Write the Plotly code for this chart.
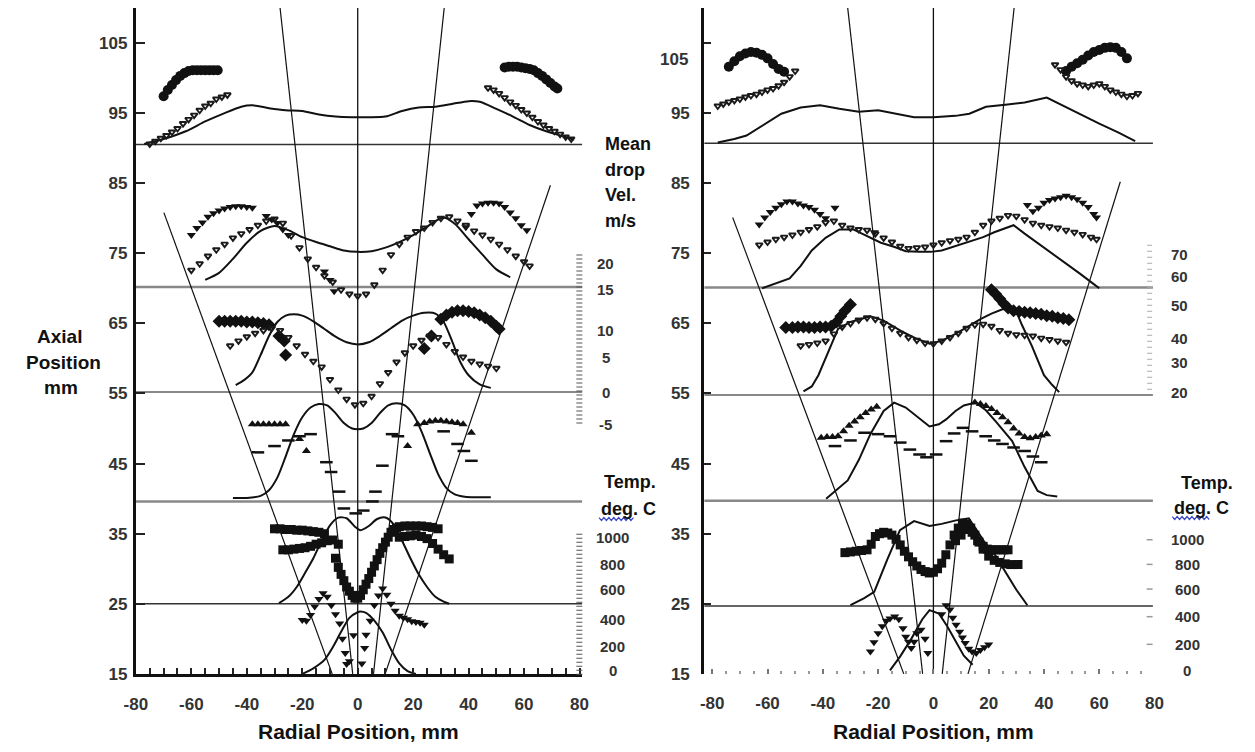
import plotly.graph_objects as go

W, H = 1255, 752

# ---------------- shared axis values ----------------
radial_ticks = [-80, -60, -40, -20, 0, 20, 40, 60, 80]
radial_text = ["-80", "-60", "-40", "-20", "0", "20", "40", "60", "80"]
axial_ticks = [15, 25, 35, 45, 55, 65, 75, 85, 95, 105]

vel_labels_left = ["20", "15", "10", "5", "0", "-5"]
vel_labels_right = ["70", "60", "50", "40", "30", "20"]
temp_labels = ["1000", "800", "600", "400", "200", "0"]

# ---------------- left panel ----------------
base_left = [90.5, 70.2, 55.2, 39.6, 25.0]

# spray cone lines (r0, v0) -> (r1, v1)
cone_left = [((-69.9, 80.8), (-9.2, 15)), ((-28, 110), (-1.8, 15)),
             ((31.2, 110), (5.7, 15)), ((69.5, 84.7), (9.9, 15))]

L1_line_r = [-77, -70, -62, -55, -48, -42, -38, -32, -26, -20, -14, -8, -2, 4, 10, 16, 22, 28, 34, 40, 44, 50, 56, 62, 68, 74, 78]
L1_line_v = [90.6, 91.3, 92.4, 93.8, 95.0, 95.9, 96.1, 95.7, 95.4, 95.3, 94.8, 94.5, 94.4, 94.4, 94.5, 95.3, 95.8, 95.9, 96.3, 96.7, 96.6, 95.6, 94.5, 93.3, 92.4, 91.7, 91.2]
L1_circ_r = [-70, -68.5, -67, -65.5, -64, -62.5, -61, -59.5, -58, -56.5, -55, -53.5, -52, -50.5,
             53, 54.5, 56, 57.5, 59, 60.5, 62, 63.5, 65, 66.5, 68, 69.5, 71, 72]
L1_circ_v = [97.4, 98.3, 99.0, 99.7, 100.3, 100.7, 101.0, 101.1, 101.1, 101.1, 101.1, 101.1, 101.1, 101.1,
             101.5, 101.6, 101.6, 101.6, 101.5, 101.4, 101.3, 101.1, 100.7, 100.3, 99.8, 99.3, 98.8, 98.5]
L1_chk_r = [-75, -73, -71, -69, -67, -65, -63, -61, -59, -57, -55, -53, -51, -49, -47,
            47, 49, 51, 53, 55, 57, 59, 61, 63, 65, 67, 69, 71, 73, 75, 77]
L1_chk_v = [90.6, 91.0, 91.4, 91.8, 92.3, 92.8, 93.5, 94.1, 94.7, 95.4, 96.0, 96.4, 97.0, 97.3, 97.6,
            98.6, 98.3, 97.8, 97.2, 96.6, 96.1, 95.5, 95.0, 94.4, 93.8, 93.3, 92.8, 92.4, 92.0, 91.6, 91.3]

L2_line_r = [-55, -50, -45, -40, -35, -30, -25, -20, -15, -10, -5, 0, 5, 10, 15, 20, 25, 28, 31, 35, 40, 45, 50, 55]
L2_line_v = [71.2, 72.2, 74.2, 76.5, 78.2, 78.9, 78.3, 77.3, 76.6, 76.0, 75.4, 75.2, 75.3, 75.8, 76.6, 77.6, 78.8, 79.6, 80.1, 79.2, 77.0, 74.8, 72.7, 71.6]
L2_tri_r = [-60, -58, -56, -54, -52, -50, -48, -46, -44, -42, -40, -38, -33, -31, -29, -27, -25, -12, -10, -8.5,
            39, 41, 43, 45, 47, 49, 51, 53, 55, 57, 59, 61]
L2_tri_v = [77.6, 78.6, 79.4, 80.2, 80.7, 81.1, 81.4, 81.6, 81.7, 81.7, 81.6, 81.5, 80.3, 79.8, 79.3, 78.4, 77.6, 72.4, 71.2, 69.6,
            78.7, 80.6, 81.8, 82.1, 82.2, 82.2, 82.1, 81.6, 80.8, 80.0, 79.0, 78.3]
L2_chk_r = [-60, -57, -54, -51, -48, -45, -42, -39, -36, -33, -30, -27, -24, -21, -18, -15, -12, -9, -6, -3, 0, 3,
            6, 9, 12, 15, 18, 21, 24, 27, 30, 33, 36, 39, 42, 45, 48, 51, 54, 57, 60, 62]
L2_chk_v = [72.6, 73.5, 74.6, 75.5, 76.3, 77.2, 77.8, 78.4, 79.0, 79.6, 79.9, 79.3, 77.5, 75.8, 74.2, 73.0, 71.8, 70.9, 69.8, 69.2, 68.9, 69.2,
            70.5, 72.6, 74.8, 76.3, 77.3, 78.1, 78.6, 79.4, 80.0, 80.2, 79.6, 79.0, 78.2, 77.6, 77.0, 76.3, 75.5, 74.6, 73.8, 73.2]

L3_line_r = [-44, -41, -38, -35, -32, -29, -26, -23, -20, -16, -12, -8, -4, 0, 4, 8, 12, 16, 20, 24, 28, 31, 34, 37, 40, 44, 48]
L3_line_v = [56.2, 56.9, 58.0, 60.5, 63.2, 65.2, 66.1, 66.3, 66.1, 65.3, 64.2, 63.1, 62.3, 62.0, 62.3, 63.2, 64.3, 65.4, 66.1, 66.5, 66.4, 65.2, 62.5, 59.5, 57.6, 56.3, 55.8]
L3_dia_r = [-50, -48, -46, -44, -42, -40, -38, -36, -34, -32, -28.4, -26.5, -26, 24, 26.6,
            30, 32, 34, 36, 38, 40, 42, 44, 46, 48, 50, 51]
L3_dia_v = [65.3, 65.3, 65.3, 65.3, 65.3, 65.2, 65.2, 65.1, 65.0, 64.8, 63.2, 62.5, 60.5, 61.4, 63.2,
            65.6, 66.2, 66.6, 66.8, 66.8, 66.7, 66.5, 66.2, 65.8, 65.3, 64.6, 64.2]
L3_chk_r = [-46, -43, -40, -37, -34, -31, -28, -25, -22, -19, -16, -13, -10, -7, -4, -1, 2, 5, 8, 11,
            14, 17, 20, 23, 26, 29, 32, 35, 38, 41, 44, 47, 50]
L3_chk_v = [61.8, 62.5, 63.1, 63.6, 64.0, 64.3, 64.0, 63.0, 61.8, 60.6, 59.6, 58.8, 57.0, 55.5, 54.2, 53.4, 53.6, 54.6, 56.4, 58.0,
            59.5, 60.8, 61.8, 62.6, 63.2, 63.0, 62.0, 61.0, 60.2, 59.6, 59.2, 58.9, 58.6]

L4_line_r = [-45, -40, -35, -32, -29, -26, -23, -20, -17, -14, -11, -8, -5, -2, 0, 2, 5, 8, 11, 14, 17, 20, 23, 26, 29, 32, 35, 38, 41, 44, 48]
L4_line_v = [40.1, 40.1, 40.4, 41.2, 43.0, 46.0, 49.2, 51.6, 53.0, 53.5, 53.3, 52.2, 50.8, 50.0, 49.9, 50.0, 50.8, 52.2, 53.3, 53.6, 53.3, 52.0, 49.6, 46.5, 43.5, 41.5, 40.6, 40.3, 40.2, 40.2, 40.2]
L4_tri_r = [-38, -36, -34, -32, -30, -28, -26, -21, -18.5, 18, 21.6, 24, 26, 28, 30, 32, 34, 36, 38, 41]
L4_tri_v = [50.6, 50.6, 50.6, 50.6, 50.6, 50.6, 50.6, 48.5, 46.8, 47.5, 50.6, 50.8, 51.0, 51.1, 51.1, 51.0, 50.9, 50.8, 50.6, 49.4]
L4_dash_r = [-36, -30, -25, -21, -17, -11.3, -9.6, -6.7, -5, -0.7, 2, 5.3, 6.4, 8.9, 12.4, 14.5, 31, 36, 38.3, 41]
L4_dash_v = [46.6, 47.5, 48.3, 48.9, 49.2, 45.2, 43.8, 41.0, 38.6, 37.9, 38.3, 39.6, 41.0, 44.7, 49.2, 48.9, 49.6, 47.8, 46.8, 45.4]

L5_line_r = [-28.4, -25, -22, -19, -16, -13, -10, -7, -4, -1, 1, 4, 7, 10, 13, 16, 19, 22, 25, 28, 31, 33]
L5_line_v = [25.1, 26.0, 27.4, 29.4, 31.5, 34.0, 36.2, 37.3, 37.2, 36.0, 35.5, 36.1, 37.1, 37.3, 36.3, 34.0, 31.5, 29.2, 27.4, 26.0, 25.3, 25.0]
L5_sq_r = [-30, -28, -26, -24, -22, -20, -18, -16, -14, -12,
           -27, -25, -23, -21, -19, -17, -15, -13, -11, -9, -7,
           -8, -7, -6, -5, -4, -3, -2, -1, 0, 1, 2, 3, 4, 5, 6, 7, 8, 9, 10, 11, 12, 13, 14,
           15, 17, 19, 21, 23, 25, 27, 29,
           15, 17, 19, 21, 23, 25, 27, 29, 31, 33]
L5_sq_v = [35.7, 35.7, 35.6, 35.6, 35.5, 35.5, 35.4, 35.3, 35.2, 35.0,
           32.7, 32.7, 32.8, 32.9, 33.0, 33.2, 33.5, 33.7, 34.0, 34.1, 33.5,
           31.5, 30.2, 29.2, 28.3, 27.4, 26.8, 26.2, 25.8, 25.8, 26.2, 27.0, 27.8, 28.6, 29.5, 30.4, 31.3, 32.2, 33.0, 33.8, 34.5, 35.2, 35.6, 35.8,
           36.0, 36.1, 36.1, 36.1, 36.1, 36.0, 35.9, 35.7,
           34.5, 34.6, 34.7, 34.8, 34.6, 34.3, 33.6, 32.8, 32.0, 31.4]
L5_tri_r = [-20, -18.5, -17, -15.5, -14, -12.5, -11, -9.5, -8, -6.5, -5.5, -4.5, -4, -3, -1.5, 1.5, 2.5, 3,
            4.5, 6, 7.5, 9, 10.5, 12, 13.5, 15, 16.5, 18, 19.5, 21, 22.5, 24]
L5_tri_v = [22.7, 22.6, 23.4, 24.6, 25.7, 26.5, 26.0, 24.8, 23.5, 22.2, 20.0, 18.0, 16.4, 16.8, 20.5, 16.5, 18.7, 20.6,
            22.6, 24.8, 26.2, 27.2, 26.3, 25.0, 24.0, 23.3, 23.0, 22.8, 22.5, 22.4, 22.3, 22.0]

L6_line_r = [-20, -16, -12, -9, -6, -3, 0, 1, 3, 6, 9, 12, 15, 18, 21]
L6_line_v = [15.0, 15.8, 17.0, 18.8, 21.0, 23.0, 23.8, 23.9, 23.7, 22.6, 20.9, 18.5, 16.5, 15.4, 15.0]

# ---------------- right panel ----------------
base_right = [90.7, 70.1, 54.8, 39.7, 24.7]

cone_right = [((-72.6, 80.1), (-10.7, 15)), ((-31, 110), (-3.9, 15)),
              ((29.2, 110), (3.2, 15)), ((67.6, 85.2), (12.5, 15))]

R1_line_r = [-78, -72, -67.6, -62, -55, -48, -41, -34, -27, -20, -14, -7, 0, 8, 13, 19, 26, 33, 41, 47, 53, 60, 67, 73]
R1_line_v = [90.8, 91.3, 91.8, 93.2, 94.9, 95.8, 96.1, 95.6, 95.2, 95.4, 94.9, 94.4, 94.4, 94.6, 94.9, 95.9, 96.2, 96.5, 97.2, 96.0, 94.9, 93.5, 92.2, 91.0]
R1_circ_r = [-74, -72, -70, -68, -66, -64, -62, -60, -58, -56, -54,
             48, 50, 52, 54, 56, 58, 60, 62, 64, 66, 68, 70]
R1_circ_v = [101.6, 102.4, 103.1, 103.5, 103.7, 103.6, 103.3, 102.8, 102.0, 101.3, 100.9,
             101.0, 101.6, 102.1, 102.6, 103.2, 103.7, 104.0, 104.3, 104.4, 104.3, 103.7, 102.8]
R1_chk_r = [-78, -76, -74, -72, -70, -68, -66, -64, -62, -60, -58, -56, -54, -52, -50,
            44, 46, 48, 50, 52, 54, 56, 58, 60, 62, 64, 66, 68, 70, 72, 74]
R1_chk_v = [96.0, 96.3, 96.6, 96.8, 97.0, 97.3, 97.5, 97.7, 98.0, 98.3, 98.5, 98.9, 99.4, 100.2, 101.0,
            101.9, 101.2, 100.2, 99.6, 99.2, 99.0, 98.8, 99.0, 99.2, 98.8, 98.3, 98.0, 97.7, 97.4, 97.5, 97.8]

R2_line_r = [-62, -57, -52, -48, -44, -39, -34, -29, -24, -19, -14, -10, -5, -1, 3, 8, 13, 18, 22, 26, 29, 33, 38, 43, 48, 53, 58, 60]
R2_line_v = [70.0, 70.7, 71.4, 73.2, 75.4, 77.2, 78.4, 78.4, 77.5, 76.5, 75.9, 75.3, 75.2, 75.2, 75.4, 76.0, 76.6, 77.3, 78.0, 78.6, 79.0, 77.8, 76.4, 75.0, 73.5, 72.1, 70.6, 70.0]
R2_tri_r = [-63, -61, -59, -57, -55, -53, -51, -49, -47, -45, -43, -41, -39, -35.6, -21.4,
            34, 36, 38, 40, 42, 44, 46, 48, 50, 52, 54, 56, 58, 59]
R2_tri_v = [79.1, 80.1, 80.9, 81.5, 82.0, 82.4, 82.4, 82.1, 81.8, 81.6, 81.2, 80.6, 80.0, 81.5, 78.0,
            81.9, 81.0, 81.5, 82.2, 82.6, 82.8, 83.0, 83.2, 83.0, 82.7, 82.2, 81.6, 80.6, 80.1]
R2_chk_r = [-63, -60, -57, -54, -51, -48, -45, -42, -39, -36, -33, -30, -27, -24, -21, -18, -15, -12, -9, -6, -3,
            0, 3, 6, 9, 12, 15, 18, 21, 24, 27, 30, 33, 36, 39, 42, 45, 48, 51, 54, 57, 59]
R2_chk_v = [76.2, 76.6, 77.0, 77.3, 77.6, 78.0, 78.4, 78.8, 79.4, 79.6, 79.0, 78.6, 78.4, 78.3, 77.8, 77.2, 76.6, 76.0, 75.7, 75.8, 75.9,
            76.2, 76.5, 76.8, 77.0, 77.3, 78.0, 79.0, 79.6, 80.0, 80.4, 80.3, 79.8, 79.3, 79.0, 78.8, 78.6, 78.3, 78.0, 77.7, 77.3, 77.0]

R3_line_r = [-47, -44, -41.6, -38, -34.5, -30, -26, -22.8, -18, -14, -10.7, -6, -1.4, 3, 8, 12.8, 17, 21, 25, 29.5, 32, 35.6, 38, 40, 43, 45.5]
R3_line_v = [55.3, 56.0, 57.6, 61.0, 64.2, 65.2, 65.7, 66.0, 65.4, 64.5, 63.7, 62.8, 62.1, 62.5, 63.5, 64.6, 65.6, 66.4, 67.0, 67.2, 64.8, 61.8, 59.5, 57.6, 56.2, 55.2]
R3_dia_r = [-53.4, -51, -49, -47, -45, -43, -41, -39, -37, -35, -33.5, -32, -30,
            21, 22.5, 24, 25.5, 27, 29, 31, 33, 35, 37, 39, 41, 43, 45, 47, 49]
R3_dia_v = [64.4, 64.4, 64.5, 64.5, 64.4, 64.4, 64.5, 64.5, 64.6, 65.2, 66.0, 66.8, 67.7,
            69.8, 69.2, 68.5, 67.8, 67.2, 66.8, 66.7, 66.6, 66.5, 66.4, 66.3, 66.1, 66.0, 65.8, 65.7, 65.5]
R3_chk_r = [-48, -45, -42, -39, -36, -33, -30, -27, -24, -21, -18, -15, -12, -9, -6, -3, 0, 3, 6, 9, 12,
            15, 18, 21, 24, 27, 30, 33, 36, 39, 42, 45, 48]
R3_chk_v = [61.8, 62.0, 62.2, 62.5, 63.5, 64.5, 65.0, 65.5, 65.8, 65.6, 65.0, 64.3, 63.6, 63.0, 62.6, 62.2, 62.1, 62.5, 63.0, 63.6, 64.3,
            64.8, 64.9, 64.6, 64.0, 63.6, 63.4, 63.3, 63.2, 62.9, 62.7, 62.5, 62.3]

R4_line_r = [-38.8, -35, -31, -27, -22.8, -18, -14.2, -10, -6, -1.4, 2, 4.6, 8, 11, 15.3, 19, 23, 28.5, 33, 37.7, 41, 44.8]
R4_line_v = [40.0, 41.2, 42.6, 45.5, 49.2, 52.5, 53.7, 53.0, 51.7, 50.3, 50.6, 51.3, 52.5, 53.3, 53.7, 52.6, 50.8, 48.2, 44.5, 41.1, 40.5, 40.3]
R4_tri_r = [-40.6, -38.5, -36.5, -34.5, -32.5, -30.5, -28.5, -26.5, -24.5, -22.5, -20.5,
            15, 17, 19, 21, 23, 25, 27, 29, 31, 33, 35, 37, 39, 41]
R4_tri_v = [48.7, 48.8, 48.8, 48.9, 49.6, 50.4, 51.0, 51.6, 52.2, 52.7, 53.1,
            53.7, 53.5, 53.2, 52.8, 52.2, 51.6, 50.9, 50.0, 49.3, 48.8, 48.6, 48.8, 49.0, 49.2]
R4_dash_r = [-35.6, -30, -24.9, -20, -15.7, -12, -8.5, -5, -2.5, 1, 4.6, 7.5, 10.7, 14, 18.9, 22, 25, 29, 33, 36, 39]
R4_dash_v = [47.5, 48.3, 49.4, 49.2, 48.9, 48.0, 47.0, 46.3, 45.9, 46.3, 48.2, 49.3, 50.1, 49.6, 48.9, 48.3, 47.8, 47.3, 46.8, 46.0, 45.2]

R5_line_r = [-30, -25, -21.4, -16.7, -12.1, -7, -1.4, 3, 8.2, 12.8, 16, 19, 22.4, 26, 30, 34]
R5_line_v = [24.8, 25.8, 26.7, 31.3, 35.5, 36.8, 36.1, 36.4, 36.9, 37.2, 35.3, 33.5, 31.9, 29.5, 27.0, 24.8]
R5_sq_r = [-32, -30, -28, -26, -24, -22.5, -21, -19.5, -18, -16.5, -15, -13.5, -12, -10.5, -9, -7.5, -6, -4.5, -3, -1.5,
           0, 1.5, 3, 4.5, 6, 7.5, 9, 10.5, 12, 13.5, 15, 16.5, 18, 19.5, 21, 22.5, 24, 25.5, 27,
           8, 10, 12, 14, 16, 18, 20, 22, 24, 26, 28, 30.6]
R5_sq_v = [32.3, 32.4, 32.5, 32.6, 32.7, 33.5, 34.6, 35.0, 35.2, 35.1, 34.8, 34.2, 33.4, 32.5, 31.7, 31.0, 30.4, 29.9, 29.6, 29.4,
           29.5, 30.0, 30.8, 32.0, 33.4, 34.8, 35.8, 36.5, 36.4, 35.8, 34.8, 33.8, 33.2, 32.8, 32.7, 32.7, 32.7, 32.7, 32.7,
           34.0, 34.8, 35.6, 35.2, 34.0, 32.8, 31.8, 31.2, 30.9, 30.7, 30.6, 30.6]
R5_tri_r = [-22.8, -21.5, -20, -18.5, -17, -15.7, -14, -12.5, -11, -10, -9, -8, -7, -6, -4.5, -3, -2,
            3, 4.6, 6, 7, 8.2, 9.5, 10.5, 11.5, 12.8, 14, 15.5, 17, 18.5, 20]
R5_tri_v = [18.2, 19.5, 20.8, 21.8, 22.6, 22.9, 23.2, 22.8, 21.5, 20.3, 19.6, 18.7, 19.6, 20.8, 21.3, 20.0, 18.0,
            23.5, 24.8, 24.2, 23.0, 22.0, 21.0, 20.2, 19.4, 18.6, 18.2, 18.0, 18.4, 18.8, 19.2]

R6_line_r = [-15.7, -12, -8, -4, -1.4, 2, 5, 8, 11, 14.2]
R6_line_v = [15.5, 17.5, 20.0, 22.8, 24.1, 23.6, 21.8, 19.6, 17.6, 16.3]

# ---------------- drawing helpers ----------------
INK = "#111111"
FONT = "Liberation Sans"


def px(x):
    return x / W


def py(y):
    return 1 - y / H


fig = go.Figure()


def add_line(r, v, ax, shape="spline", width=2.0, color=INK):
    fig.add_trace(go.Scatter(x=r, y=v, mode="lines", xaxis=ax[0], yaxis=ax[1],
                             line=dict(color=color, width=width, shape=shape, smoothing=0.7),
                             hoverinfo="skip", showlegend=False))


MARKS = {
    "circle": dict(symbol="circle", size=10, color=INK),
    "tri_down": dict(symbol="triangle-down", size=8, color=INK),
    "tri_up": dict(symbol="triangle-up", size=8, color=INK),
    "diamond": dict(symbol="diamond", size=10, color=INK),
    "square": dict(symbol="square", size=9, color=INK),
    "dash": dict(symbol="line-ew", size=9, color=INK, line=dict(width=2.5, color=INK)),
    "check": dict(symbol="triangle-down-open", size=6, color="#1a1a1a", line=dict(width=1.9, color="#1a1a1a")),
}


def add_marks(r, v, ax, kind):
    fig.add_trace(go.Scatter(x=r, y=v, mode="markers", marker=MARKS[kind],
                             xaxis=ax[0], yaxis=ax[1], hoverinfo="skip", showlegend=False))


LEFT = ("x", "y")
RIGHT = ("x2", "y2")
band_style = [("#333", 1.5), ("#888", 2.5), ("#888", 2.0), ("#888", 2.5), ("#333", 1.5)]

# left panel
for v, (c, w) in zip(base_left, band_style):
    add_line([-80, 81], [v, v], LEFT, shape="linear", width=w, color=c)
add_line([0, 0], [15, 110], LEFT, shape="linear", width=1.3)
for (a, b) in cone_left:
    add_line([a[0], b[0]], [a[1], b[1]], LEFT, shape="linear", width=1.2)

add_line(L1_line_r, L1_line_v, LEFT)
add_marks(L1_circ_r, L1_circ_v, LEFT, "circle")
add_marks(L1_chk_r, L1_chk_v, LEFT, "check")
add_line(L2_line_r, L2_line_v, LEFT)
add_marks(L2_tri_r, L2_tri_v, LEFT, "tri_down")
add_marks(L2_chk_r, L2_chk_v, LEFT, "check")
add_line(L3_line_r, L3_line_v, LEFT)
add_marks(L3_dia_r, L3_dia_v, LEFT, "diamond")
add_marks(L3_chk_r, L3_chk_v, LEFT, "check")
add_line(L4_line_r, L4_line_v, LEFT)
add_marks(L4_tri_r, L4_tri_v, LEFT, "tri_up")
add_marks(L4_dash_r, L4_dash_v, LEFT, "dash")
add_line(L5_line_r, L5_line_v, LEFT)
add_marks(L5_sq_r, L5_sq_v, LEFT, "square")
add_marks(L5_tri_r, L5_tri_v, LEFT, "tri_down")
add_line(L6_line_r, L6_line_v, LEFT)

# right panel
for v, (c, w) in zip(base_right, band_style):
    add_line([-82.9, 79.4], [v, v], RIGHT, shape="linear", width=w, color=c)
add_line([0, 0], [15, 110], RIGHT, shape="linear", width=1.3)
for (a, b) in cone_right:
    add_line([a[0], b[0]], [a[1], b[1]], RIGHT, shape="linear", width=1.2)

add_line(R1_line_r, R1_line_v, RIGHT, shape="linear")
add_marks(R1_circ_r, R1_circ_v, RIGHT, "circle")
add_marks(R1_chk_r, R1_chk_v, RIGHT, "check")
add_line(R2_line_r, R2_line_v, RIGHT, shape="linear")
add_marks(R2_tri_r, R2_tri_v, RIGHT, "tri_down")
add_marks(R2_chk_r, R2_chk_v, RIGHT, "check")
add_line(R3_line_r, R3_line_v, RIGHT, shape="linear")
add_marks(R3_dia_r, R3_dia_v, RIGHT, "diamond")
add_marks(R3_chk_r, R3_chk_v, RIGHT, "check")
add_line(R4_line_r, R4_line_v, RIGHT, shape="linear")
add_marks(R4_tri_r, R4_tri_v, RIGHT, "tri_up")
add_marks(R4_dash_r, R4_dash_v, RIGHT, "dash")
add_line(R5_line_r, R5_line_v, RIGHT, shape="linear")
add_marks(R5_sq_r, R5_sq_v, RIGHT, "square")
add_marks(R5_tri_r, R5_tri_v, RIGHT, "tri_down")
add_line(R6_line_r, R6_line_v, RIGHT, shape="linear")

# ---------------- axes ----------------
tick_font = dict(family=FONT, size=17, color="#333", weight="bold")
ydom = [py(683), py(8)]

fig.update_layout(
    width=W, height=H, margin=dict(l=0, r=0, t=0, b=0),
    paper_bgcolor="white", plot_bgcolor="white", showlegend=False,
    xaxis=dict(domain=[px(126), px(580)], range=[-80, 81], anchor="y",
               tickvals=radial_ticks, ticktext=radial_text,
               ticks="inside", ticklen=6, tickwidth=1.5, tickcolor="#222", ticklabelstandoff=13,
               minor=dict(dtick=5, tick0=0, ticks="inside", ticklen=6, tickwidth=1.5, tickcolor="#222"),
               showline=True, linewidth=3, linecolor="#111", showgrid=False, zeroline=False,
               tickfont=tick_font),
    yaxis=dict(domain=ydom, range=[15, 110], anchor="x",
               tickvals=axial_ticks, ticks="inside", ticklen=9, tickwidth=1.5, tickcolor="#222",
               ticklabelstandoff=2,
               showline=True, linewidth=3, linecolor="#111", showgrid=False, zeroline=False,
               tickfont=tick_font),
    xaxis2=dict(domain=[px(704), px(1162)], range=[-82.9, 80], anchor="y2",
                tickvals=radial_ticks, ticktext=radial_text,
                ticks="inside", ticklen=5, tickwidth=1.5, tickcolor="#777", ticklabelstandoff=17,
                minor=dict(dtick=5, tick0=0, ticks="inside", ticklen=3, tickwidth=1.5, tickcolor="#999"),
                showline=False, showgrid=False, zeroline=False, tickfont=tick_font),
    yaxis2=dict(domain=ydom, range=[15, 110], anchor="x2",
                tickvals=axial_ticks, ticktext=[str(t) for t in axial_ticks[:-1]] + [""],
                ticks="inside", ticklen=7, tickwidth=1.5, tickcolor="#222", ticklabelstandoff=8,
                showline=True, linewidth=3, linecolor="#111", showgrid=False, zeroline=False,
                tickfont=tick_font),
)

# ---------------- text labels ----------------
ann = []


def label(text, x, y, size=16, anchor="center", color="#222"):
    ann.append(dict(text=text, x=px(x), y=py(y), xref="paper", yref="paper", showarrow=False,
                    xanchor=anchor, yanchor="middle",
                    font=dict(family=FONT, size=size, color=color, weight="bold")))


label("Radial Position, mm", 352, 741, size=21, color="#111")
label("Radial Position, mm", 937, 741, size=21, color="#111")
label("Axial", 48, 341, size=19, color="#111")
label("Position", 52, 367, size=19, color="#111")
label("mm", 50, 393, size=19, color="#111")
label("105", 690, 60, size=17, anchor="right", color="#333")

for i, t in enumerate(["Mean", "drop", "Vel.", "m/s"]):
    label(t, 601, 146 + 26 * i, size=18, anchor="left", color="#111")

label("Temp.", 600, 488, size=18, anchor="left", color="#111")
label("deg. C", 597, 516, size=18, anchor="left", color="#111")
label("Temp.", 1187, 490, size=18, anchor="left", color="#111")
label("deg. C", 1180, 515, size=18, anchor="left", color="#111")

for t, y in zip(vel_labels_left, [267, 293, 335, 362, 398, 430]):
    label(t, 604, y, size=15, color="#333")
for t, y in zip(vel_labels_right, [258, 280, 310, 343, 367, 398]):
    label(t, 1187, y, size=15, color="#333")
for t, y in zip(temp_labels, [545, 572, 597, 628, 655, 680]):
    label(t, 611, y, size=15, color="#333")
for t, y in zip(temp_labels, [547, 572, 597, 625, 653, 680]):
    label(t, 1195, y, size=15, color="#333")

fig.update_layout(annotations=ann)

# ---------------- scale columns and underlines ----------------
shapes = []


def col(x, y0, y1, color, width, dash):
    shapes.append(dict(type="line", xref="paper", yref="paper", x0=px(x), x1=px(x), y0=py(y0), y1=py(y1),
                       line=dict(color=color, width=width, dash=dash)))


col(577, 258, 432, "#555", 6, "1px,3px")
col(577, 541, 684, "#555", 6, "1px,3px")
col(1157, 248, 396, "#aaa", 5, "1px,5px")
for y in [547, 572, 597, 625, 653]:
    shapes.append(dict(type="line", xref="paper", yref="paper", x0=px(1154), x1=px(1160), y0=py(y), y1=py(y),
                       line=dict(color="#999", width=1.5)))


def wavy(x0, x1, y):
    pts = []
    x = x0
    k = 0
    while x <= x1:
        pts.append(f"{px(x):.5f},{py(y + (1.5 if k % 2 else -1.5)):.5f}")
        x += 2.5
        k += 1
    return "M " + " L ".join(pts)


for x0, x1, y in [(597, 633, 526), (1180, 1218, 525)]:
    shapes.append(dict(type="path", xref="paper", yref="paper", path=wavy(x0, x1, y),
                       line=dict(color="#3a46c8", width=1.2)))

fig.update_layout(shapes=shapes)

fig.write_html("out.html")
